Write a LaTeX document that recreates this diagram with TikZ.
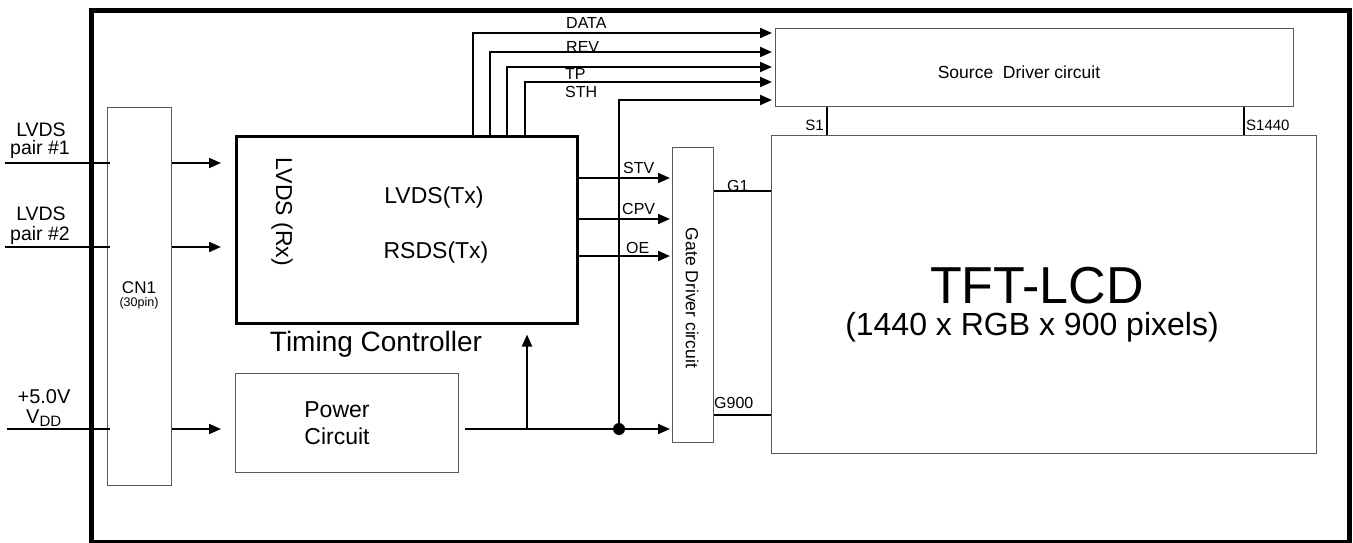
\documentclass[tikz,border=0pt]{standalone}
\usepackage{fontspec}
\setmainfont{Liberation Sans}
\usetikzlibrary{arrows.meta}
\newcommand{\fs}[1]{\fontsize{#1}{#1}\selectfont}
\begin{document}
\begin{tikzpicture}[x=1pt,y=-1pt,
  thinbox/.style={draw=black!65, line width=1.4pt, inner sep=0pt, anchor=north west},
  wire/.style={line width=2pt},
  arr/.style={wire, -{Triangle[length=12pt,width=10pt]}},
  lbl/.style={inner sep=0pt}]
\useasboundingbox (0,0) rectangle (1353,543);
% outer frame
\node[draw, line width=5pt, minimum width=1258pt, minimum height=532pt, anchor=north west, inner sep=0pt] (frame) at (89,8) {};
% boxes
\node[thinbox, minimum width=64pt, minimum height=378pt] (cn1) at (107,107) {};
\node[draw, line width=2.5pt, inner sep=0pt, anchor=north west, minimum width=341pt, minimum height=187pt] (tc) at (235,135) {};
\node[thinbox, minimum width=223pt, minimum height=99pt] (pwr) at (235,373) {};
\node[thinbox, minimum width=41pt, minimum height=295pt] (gate) at (672,147) {};
\node[thinbox, minimum width=518pt, minimum height=78pt] (src) at (775,28) {};
\node[thinbox, minimum width=545pt, minimum height=318pt] (tft) at (771,135) {};
% box texts
\node[lbl, anchor=base] (cn1t) at (139,293) {\fs{17}CN1};
\node[lbl, anchor=base] (cn1p) at (139,306) {\fs{12.5}(30pin)};
\node[lbl, rotate=-90] (rx) at (282,212) {\fs{23}LVDS (Rx)};
\node[lbl, anchor=base] (ltx) at (434,203) {\fs{23}LVDS(Tx)};
\node[lbl, anchor=base] (rtx) at (436,258) {\fs{23}RSDS(Tx)};
\node[lbl, anchor=base] (tct) at (376,351) {\fs{28}Timing Controller};
\node[lbl, anchor=base] (pw1) at (337,417) {\fs{23}Power};
\node[lbl, anchor=base] (pw2) at (337,444) {\fs{23}Circuit};
\node[lbl, rotate=-90] (gdt) at (692,298) {\fs{17.5}Gate Driver circuit};
\node[lbl, anchor=base] (sdt) at (1019,78) {\fs{17.5}Source\ \ Driver circuit};
\node[lbl, anchor=base] (tftt) at (1037,303) {\fs{52}TFT-LCD};
\node[lbl, anchor=base] (tftp) at (1032,335) {\fs{32}(1440 x RGB x 900 pixels)};
% input labels
\node[lbl, anchor=base] (l1a) at (41,136) {\fs{19.5}LVDS};
\node[lbl, anchor=base] (l1b) at (40,154) {\fs{19.5}pair \#1};
\node[lbl, anchor=base] (l2a) at (41,220) {\fs{19.5}LVDS};
\node[lbl, anchor=base] (l2b) at (40,240) {\fs{19.5}pair \#2};
\node[lbl, anchor=base] (v1) at (44,403) {\fs{20}+5.0V};
\node[lbl, anchor=base west] (v2) at (26,423) {\fs{20}V\raisebox{-0.35ex}{\fs{15}DD}};
% coordinates
\coordinate (in1) at (5,163);
\coordinate (in2) at (5,247);
\coordinate (in3) at (7,429);
\coordinate (cr1) at (110,163);
\coordinate (cr2) at (110,247);
\coordinate (cr3) at (110,429);
\coordinate (yD) at (0,33);
\coordinate (yR) at (0,52);
\coordinate (yT) at (0,67);
\coordinate (yS) at (0,82);
\coordinate (yH) at (0,100);
\coordinate (xD) at (473,0);
\coordinate (xR) at (490,0);
\coordinate (xT) at (507,0);
\coordinate (xS) at (525,0);
\coordinate (ySTV) at (0,178);
\coordinate (yCPV) at (0,219);
\coordinate (yOE) at (0,256);
\coordinate (yP) at (0,429);
\coordinate (xU) at (527,0);
\coordinate (pstart) at (465,429);
\coordinate (yG1) at (0,191);
\coordinate (yG9) at (0,415);
\coordinate (xS1) at (827,0);
\coordinate (xS2) at (1244,0);
\node[circle, fill, inner sep=0pt, minimum size=12pt] (dot) at (619,429) {};
% input wires
\draw[wire] (in1) -- (cr1);
\draw[wire] (in2) -- (cr2);
\draw[wire] (in3) -- (cr3);
\draw[arr, shorten >=14pt] (cn1.east |- in1) -- (tc.west |- in1);
\draw[arr, shorten >=14pt] (cn1.east |- in2) -- (tc.west |- in2);
\draw[arr, shorten >=14pt] (cn1.east |- in3) -- (pwr.west |- in3);
% source driver signals
\draw[arr, shorten >=3pt] (tc.north -| xD) |- (src.west |- yD);
\draw[arr, shorten >=3pt] (tc.north -| xR) |- (src.west |- yR);
\draw[arr, shorten >=3pt] (tc.north -| xT) |- (src.west |- yT);
\draw[arr, shorten >=3pt] (tc.north -| xS) |- (src.west |- yS);
\draw[arr, shorten >=3pt] (dot.center) |- (src.west |- yH);
% gate driver signals
\draw[arr, shorten >=2pt] (tc.east |- ySTV) -- (gate.west |- ySTV);
\draw[arr, shorten >=2pt] (tc.east |- yCPV) -- (gate.west |- yCPV);
\draw[arr, shorten >=2pt] (tc.east |- yOE) -- (gate.west |- yOE);
% power
\draw[arr, shorten >=2pt] (pstart) -- (gate.west |- yP);
\draw[arr, shorten >=10pt] (xU |- yP) -- (tc.south -| xU);
% gate / source outputs
\draw[wire] (gate.east |- yG1) -- (tft.west |- yG1);
\draw[wire] (gate.east |- yG9) -- (tft.west |- yG9);
\draw[wire] (src.south -| xS1) -- (tft.north -| xS1);
\draw[wire] (src.south -| xS2) -- (tft.north -| xS2);
% signal labels
\node[lbl, anchor=base west] (dl) at (566,29) {\fs{16}DATA};
\node[lbl, anchor=base west] (rl) at (566,53) {\fs{16}REV};
\node[lbl, anchor=base west] (tl) at (565,80) {\fs{16}TP};
\node[lbl, anchor=base west] (hl) at (565,97) {\fs{16}STH};
\node[lbl, anchor=base west] (stvl) at (623,173) {\fs{16}STV};
\node[lbl, anchor=base west] (cpvl) at (622,214) {\fs{16}CPV};
\node[lbl, anchor=base west] (oel) at (626,253) {\fs{16}OE};
\node[lbl, anchor=base west] (g1l) at (727,191) {\fs{16}G1};
\node[lbl, anchor=base west] (g9l) at (714,408) {\fs{16}G900};
\node[lbl, anchor=base east] (s1l) at (824,130) {\fs{15}S1};
\node[lbl, anchor=base west] (s2l) at (1246,130) {\fs{15}S1440};
\end{tikzpicture}
\end{document}
